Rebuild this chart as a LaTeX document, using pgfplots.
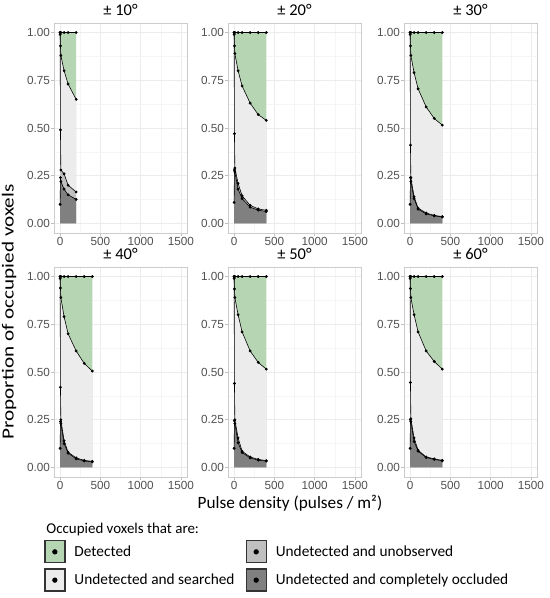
\documentclass[border=0pt]{standalone}
\usepackage{pgfplots}
\pgfplotsset{compat=1.18}
\usepackage{pgfplotstable}
\usepackage{fontspec}
\setmainfont{Carlito}
\newfontfamily\arialf{Liberation Sans}

\definecolor{cdet}{RGB}{182,213,179}
\definecolor{csearch}{RGB}{236,236,236}
\definecolor{cunobs}{RGB}{192,192,192}
\definecolor{cocc}{RGB}{128,128,128}

% x = pulse density, columns = upper edge of each stacked layer
\pgfplotstableread{
x top det unobs occ
1 1 1.00 0.99 0.10
5 1 0.93 0.49 0.24
10 1 0.88 0.28 0.22
50 1 0.80 0.26 0.18
100 1 0.73 0.20 0.15
200 1 0.65 0.165 0.126
}\tabA
\pgfplotstableread{
x top det unobs occ
1 1 1.00 0.99 0.11
5 1 0.93 0.47 0.28
10 1 0.89 0.29 0.27
50 1 0.80 0.21 0.18
100 1 0.72 0.145 0.13
200 1 0.63 0.095 0.085
300 1 0.57 0.076 0.070
400 1 0.54 0.069 0.062
}\tabB
\pgfplotstableread{
x top det unobs occ
1 1 1.00 0.99 0.10
5 1 0.93 0.41 0.24
10 1 0.88 0.24 0.22
50 1 0.79 0.14 0.13
100 1 0.705 0.08 0.075
200 1 0.61 0.055 0.05
300 1 0.55 0.042 0.04
400 1 0.515 0.036 0.034
}\tabC
\pgfplotstableread{
x top det unobs occ
1 1 1.00 0.99 0.10
5 1 0.94 0.42 0.24
10 1 0.89 0.25 0.23
50 1 0.79 0.14 0.125
100 1 0.70 0.08 0.075
200 1 0.61 0.05 0.045
300 1 0.545 0.037 0.034
400 1 0.505 0.032 0.029
}\tabD
\pgfplotstableread{
x top det unobs occ
1 1 1.00 0.99 0.10
5 1 0.935 0.44 0.245
10 1 0.89 0.25 0.23
50 1 0.80 0.155 0.13
100 1 0.71 0.085 0.078
200 1 0.61 0.055 0.05
300 1 0.55 0.042 0.038
400 1 0.515 0.036 0.033
}\tabE
\pgfplotstableread{
x top det unobs occ
1 1 1.00 0.99 0.10
5 1 0.937 0.445 0.25
10 1 0.89 0.255 0.24
50 1 0.80 0.155 0.136
100 1 0.71 0.09 0.085
200 1 0.61 0.055 0.052
300 1 0.555 0.045 0.042
400 1 0.515 0.037 0.035
}\tabF

\pgfplotsset{
  panel/.style={
    width=133bp, height=210bp, scale only axis, anchor=south west,
    xmin=-75, xmax=1575, ymin=-0.05, ymax=1.05,
    xtick={0,500,1000,1500}, xticklabels={0,500,1000,1500},
    ytick={0,0.25,0.5,0.75,1}, yticklabels={0.00,0.25,0.50,0.75,1.00},
    minor xtick={250,750,1250}, minor ytick={0.125,0.375,0.625,0.875},
    grid=both,
    major grid style={draw=gray!15, line width=0.7bp},
    minor grid style={draw=gray!8, line width=0.4bp},
    axis line style={draw=gray!40, line width=0.7bp},
    tick align=outside, tick pos=left,
    major tick length=3bp, minor tick length=0pt,
    tick style={draw=gray!50, line width=0.6bp},
    ticklabel style={font=\arialf\fontsize{11.8}{13}\selectfont, text=black!68, inner sep=0.8bp},
    xticklabel style={text height=8.4bp, text depth=0pt},
    title style={font=\fontsize{16.5}{19}\selectfont, at={(0.5,1)}, anchor=base,
      inner sep=0pt, text height=10.5bp, text depth=0pt, yshift=1.5bp},
  },
  dline/.style={black, line width=0.6bp, mark=*, mark size=1.1bp},
}

\newcommand{\panel}[3]{%
\begin{axis}[panel, at={#1}, title={#2}]
\addplot[draw=none, fill=cdet] table[x=x, y=top] {#3} \closedcycle;
\addplot[draw=none, fill=csearch] table[x=x, y=det] {#3} \closedcycle;
\addplot[draw=none, fill=cunobs] table[x=x, y=unobs] {#3} \closedcycle;
\addplot[draw=none, fill=cocc] table[x=x, y=occ] {#3} \closedcycle;
\addplot[dline] table[x=x, y=top] {#3};
\addplot[dline] table[x=x, y=det] {#3};
\addplot[dline] table[x=x, y=unobs] {#3};
\addplot[dline] table[x=x, y=occ] {#3};
\end{axis}}

\begin{document}
\begin{tikzpicture}
\panel{(54bp,365bp)}{± 10°}{\tabA}
\panel{(228bp,365bp)}{± 20°}{\tabB}
\panel{(404bp,365bp)}{± 30°}{\tabC}
\panel{(54bp,121bp)}{± 40°}{\tabD}
\panel{(228bp,121bp)}{± 50°}{\tabE}
\panel{(404bp,121bp)}{± 60°}{\tabF}

% frame for shared labels and the legend
\begin{axis}[at={(0,0)}, anchor=south west, width=550bp, height=598bp,
  scale only axis, hide axis, xmin=0, xmax=1, ymin=0, ymax=1,
  legend columns=2, legend cell align=left,
  legend style={at={(0.08,0.097)}, anchor=north west, draw=none, fill=none,
    inner sep=0pt, row sep=5bp, column sep=7bp,
    font=\fontsize{15.4}{18}\selectfont,
    /tikz/every even column/.append style={column sep=9bp}},
  legend image code/.code={%
    \draw[line width=1.3bp, draw=black!80, #1] (0bp,-11bp) rectangle (20bp,11bp);
    \fill[black] (10bp,0bp) circle (2.4bp);}
]
\addlegendimage{fill=cdet}\addlegendentry{Detected}
\addlegendimage{fill=cunobs}\addlegendentry{Undetected and unobserved}
\addlegendimage{fill=csearch}\addlegendentry{Undetected and searched}
\addlegendimage{fill=cocc}\addlegendentry{Undetected and completely occluded}
\node[anchor=west, font=\fontsize{15}{18}\selectfont] at (axis description cs:0.078,0.1137) {Occupied voxels that are:};
\node[font=\fontsize{17.3}{20}\selectfont] at (axis description cs:0.5273,0.1589) {Pulse density (pulses / m²)};
\node[rotate=90, font=\fontsize{17}{20}\selectfont] at (axis description cs:0.0164,0.4783) {\scalebox{1.25}[1]{Proportion of occupied voxels}};
\end{axis}
\pgfresetboundingbox
\path (0,0) rectangle (550bp,598bp);
\end{tikzpicture}
\end{document}
